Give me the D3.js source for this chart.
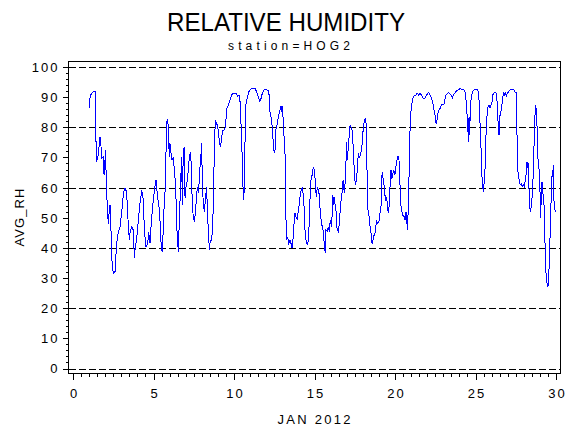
<!DOCTYPE html>
<html><head><meta charset="utf-8">
<script src="https://cdn.jsdelivr.net/npm/d3@7"></script>
<style>html,body{margin:0;padding:0;background:#fff;} svg{display:block}</style>
</head><body>
<svg id="c" width="570" height="430"></svg>
<script>
const title = "RELATIVE HUMIDITY";
const subtitle = "station=HOG2";
const xLabel = "JAN 2012";
const yLabel = "AVG_RH";
const xTicks = [0, 5, 10, 15, 20, 25, 30];
const yTicks = [0, 10, 20, 30, 40, 50, 60, 70, 80, 90, 100];
const gridValues = [0, 20, 40, 60, 80, 100];

const days = [
1.01,1.05,1.10,1.20,1.30,1.37,1.43,1.47,1.57,1.68,1.74,1.78,1.88,1.93,2.03,2.05,2.09,2.19,2.26,2.30,
2.36,2.40,2.50,2.61,2.65,2.71,2.82,2.92,3.02,3.13,3.23,3.33,3.44,3.50,3.54,3.64,3.75,3.81,3.87,3.95,
4.06,4.16,4.27,4.37,4.43,4.53,4.64,4.70,4.78,4.89,4.99,5.09,5.16,5.24,5.34,5.40,5.47,5.53,5.61,5.65,
5.71,5.76,5.82,5.88,5.92,5.98,6.02,6.09,6.15,6.23,6.29,6.38,6.44,6.50,6.54,6.60,6.69,6.75,6.79,6.85,
6.91,6.96,7.02,7.10,7.16,7.23,7.31,7.37,7.41,7.47,7.54,7.62,7.68,7.74,7.80,7.87,7.93,7.99,8.03,8.09,
8.16,8.24,8.30,8.36,8.43,8.47,8.53,8.61,8.68,8.74,8.80,8.86,8.92,8.99,9.05,9.11,9.17,9.24,9.30,9.38,
9.44,9.50,9.56,9.65,9.75,9.85,9.96,10.12,10.23,10.31,10.37,10.43,10.50,10.54,10.60,10.64,10.68,10.72,10.79,10.85,
10.93,11.04,11.16,11.30,11.41,11.51,11.61,11.68,11.76,11.86,11.99,12.13,12.20,12.24,12.30,12.34,12.40,12.44,12.51,12.55,
12.59,12.65,12.72,12.80,12.86,12.92,12.98,13.02,13.06,13.13,13.19,13.23,13.27,13.33,13.40,13.48,13.54,13.60,13.66,13.73,
13.79,13.85,13.93,14.00,14.06,14.12,14.18,14.24,14.31,14.35,14.41,14.47,14.56,14.62,14.68,14.74,14.80,14.86,14.93,14.99,
15.05,15.11,15.18,15.24,15.30,15.36,15.45,15.51,15.57,15.63,15.67,15.71,15.80,15.86,15.92,15.98,16.05,16.09,16.13,16.17,
16.21,16.27,16.34,16.38,16.44,16.48,16.54,16.63,16.71,16.75,16.79,16.85,16.90,16.96,17.00,17.04,17.11,17.17,17.21,17.27,
17.33,17.39,17.45,17.49,17.54,17.60,17.66,17.72,17.79,17.85,17.91,17.97,18.03,18.09,18.16,18.20,18.24,18.28,18.32,18.39,
18.45,18.51,18.55,18.61,18.67,18.74,18.80,18.86,18.92,19.00,19.07,19.13,19.17,19.21,19.27,19.34,19.40,19.46,19.52,19.58,
19.64,19.71,19.75,19.81,19.87,19.93,19.99,20.06,20.12,20.18,20.24,20.29,20.33,20.39,20.45,20.52,20.58,20.62,20.68,20.72,
20.77,20.83,20.89,20.95,21.02,21.08,21.14,21.22,21.30,21.39,21.47,21.55,21.64,21.72,21.80,21.88,21.97,22.07,22.13,22.22,
22.30,22.38,22.45,22.51,22.55,22.61,22.67,22.73,22.80,22.88,22.96,23.04,23.11,23.17,23.25,23.33,23.42,23.50,23.56,23.62,
23.73,23.83,23.93,24.04,24.14,24.24,24.35,24.41,24.47,24.51,24.56,24.60,24.64,24.68,24.74,24.82,24.91,25.01,25.13,25.20,
25.24,25.28,25.34,25.38,25.45,25.49,25.53,25.57,25.59,25.63,25.67,25.71,25.78,25.84,25.90,25.96,26.02,26.07,26.15,26.25,
26.31,26.38,26.42,26.46,26.50,26.56,26.63,26.69,26.73,26.79,26.85,26.92,26.98,27.06,27.14,27.25,27.35,27.45,27.52,27.56,
27.60,27.66,27.72,27.78,27.84,27.91,27.97,28.03,28.10,28.16,28.20,28.24,28.28,28.32,28.36,28.41,28.47,28.53,28.59,28.66,
28.72,28.76,28.80,28.84,28.90,28.97,29.01,29.05,29.09,29.13,29.17,29.22,29.26,29.30,29.34,29.38,29.44,29.50,29.54,29.59,
29.63,29.67,29.71,29.75,29.79,29.83,29.85,29.89,29.96
];
const rh = [
86.3,89.6,90.7,91.5,92.1,91.8,75.2,68.6,70.8,76.9,73.6,69.7,70.3,64.2,72.5,65.8,58.1,48.1,52.6,54.2,
45.9,37.1,31.6,32.1,36.0,41.5,45.4,47.0,51.5,58.1,59.8,58.6,47.0,42.6,44.8,47.0,45.9,36.5,40.4,42.6,
49.3,54.8,59.2,55.9,45.9,40.4,41.5,45.4,41.5,50.4,55.9,60.3,62.5,57.5,53.7,49.3,41.5,38.8,45.9,52.6,
57.5,67.6,81.9,82.8,79.7,70.3,74.7,71.4,69.2,69.7,66.4,60.3,47.0,42.6,38.8,48.1,62.5,70.3,54.2,72.5,
73.1,56.5,60.3,62.5,65.8,70.3,71.9,62.5,54.2,50.4,48.7,52.6,58.1,60.3,58.1,65.8,69.2,74.7,62.5,54.8,
52.0,57.0,60.3,50.4,43.7,39.3,42.6,42.6,47.0,61.4,78.0,81.9,81.3,80.2,77.5,74.7,73.6,76.9,79.1,79.1,
79.7,82.4,86.3,87.4,89.0,90.7,91.3,91.3,90.2,90.7,89.0,82.0,71.4,62.5,55.9,60.3,73.6,86.9,89.0,90.2,
91.8,92.6,92.9,92.9,91.8,90.2,88.5,89.6,91.3,92.4,92.6,92.1,90.2,84.6,83.5,81.3,79.7,73.6,71.4,72.5,
79.1,80.2,82.4,84.6,85.7,86.9,85.2,86.9,81.3,74.7,69.2,49.3,42.6,43.7,41.5,42.6,41.5,39.9,42.6,48.1,
51.5,50.4,49.3,52.6,54.8,58.1,59.2,60.3,57.0,53.7,45.9,42.6,40.9,42.6,49.3,59.2,63.6,64.2,66.9,65.8,
61.9,57.0,60.3,59.2,57.5,51.5,47.6,47.0,43.7,39.9,38.2,45.9,45.4,47.0,45.4,49.3,47.0,50.4,57.5,54.2,
57.0,54.8,52.0,47.0,45.9,45.4,48.1,54.8,58.1,61.9,62.5,58.1,61.4,69.2,75.2,69.2,74.2,78.0,80.8,80.2,
79.1,74.7,68.0,63.6,60.9,62.5,65.8,71.4,69.7,70.8,72.5,74.7,80.2,81.9,83.0,81.3,72.5,60.3,52.6,50.4,
47.0,44.8,42.0,41.5,44.2,44.2,47.0,48.7,48.1,48.7,51.5,53.7,62.5,65.3,62.5,60.3,55.9,56.5,55.3,51.5,
54.2,62.5,65.8,63.0,64.7,65.8,64.2,66.9,69.2,70.3,70.0,64.7,57.5,52.6,51.5,50.4,50.4,49.3,52.0,50.4,
45.9,53.7,68.0,83.0,86.9,89.0,90.2,90.7,90.7,91.3,90.7,91.3,90.7,89.9,89.3,89.9,90.7,91.5,91.3,90.2,
89.0,87.4,84.6,83.5,81.3,82.4,84.6,85.7,86.3,87.4,87.7,87.7,89.6,90.7,91.3,91.5,91.0,90.7,89.6,90.7,
91.5,92.1,92.4,92.9,92.6,92.6,91.8,89.0,84.6,81.9,75.2,83.5,77.5,86.9,90.2,91.8,92.4,92.6,92.6,90.7,
87.4,81.3,73.6,65.3,60.3,58.6,61.4,64.2,65.8,73.6,80.2,83.5,86.9,87.4,86.3,87.4,88.0,90.7,91.5,91.5,
91.3,84.6,79.1,77.5,83.5,84.6,86.9,89.6,91.3,90.7,91.5,90.5,91.3,91.8,92.4,92.6,92.6,91.8,91.5,84.6,
68.6,63.6,62.5,60.9,61.4,60.3,60.9,60.3,62.5,65.3,68.6,66.4,68.0,60.3,53.7,52.0,53.7,58.1,64.7,79.1,
87.4,86.3,85.7,75.8,66.9,65.8,58.1,49.8,59.2,61.9,58.1,57.5,53.7,45.9,36.0,31.6,28.3,27.2,28.3,37.1,
43.7,51.5,58.1,63.6,63.6,67.4,59.2,53.7,52.0
];

const FONT = "'Liberation Sans', Arial, sans-serif";
const frame = { l: 68.5, r: 560.5, t: 61.5, b: 373.5 };
const svg = d3.select("#c");
const x = d3.scaleLinear().domain([0, 30]).range([73, 556]);
const y = d3.scaleLinear().domain([0, 100]).range([368.5, 67]);

// Titles
svg.append("text").text(title)
  .attr("x", 286).attr("y", 30.5).attr("text-anchor", "middle")
  .attr("font-family", FONT).attr("font-size", 26)
  .attr("textLength", 238).attr("lengthAdjust", "spacingAndGlyphs");
svg.append("text").text(subtitle)
  .attr("x", 289).attr("y", 49.5).attr("text-anchor", "middle")
  .attr("font-family", FONT).attr("font-size", 12)
  .attr("textLength", 122).attr("lengthAdjust", "spacing");

// Grid dashed lines
svg.append("g").selectAll("line").data(gridValues).join("line")
  .attr("x1", frame.l).attr("x2", frame.r)
  .attr("y1", d => Math.round(y(d)) + 0.5).attr("y2", d => Math.round(y(d)) + 0.5)
  .attr("stroke", "#000").attr("stroke-width", 1)
  .attr("stroke-dasharray", "7,3")
  .attr("shape-rendering", "crispEdges");

// Data line
const line = d3.line().x((d, i) => x(days[i])).y((d, i) => y(rh[i]));
svg.append("path").datum(rh)
  .attr("d", line).attr("fill", "none")
  .attr("stroke", "#0000ff").attr("stroke-width", 1)
  .attr("shape-rendering", "crispEdges");

// Frame
svg.append("rect")
  .attr("x", frame.l).attr("y", frame.t)
  .attr("width", frame.r - frame.l).attr("height", frame.b - frame.t)
  .attr("fill", "none").attr("stroke", "#000").attr("stroke-width", 1)
  .attr("shape-rendering", "crispEdges");

// Y axis
const yMinor = d3.range(0, 101, 2).filter(v => v % 10 !== 0);
const gyMinor = svg.append("g").attr("transform", `translate(${frame.l},0)`)
  .call(d3.axisLeft(y).tickValues(yMinor).tickSize(3).tickFormat(""));
const gy = svg.append("g").attr("transform", `translate(${frame.l},0)`)
  .call(d3.axisLeft(y).tickValues(yTicks).tickSize(6).tickFormat(d3.format("d")));
[gy, gyMinor].forEach(g => {
  g.select(".domain").remove();
  g.selectAll("line").attr("shape-rendering", "crispEdges").attr("stroke", "#000");
});
gy.selectAll("text")
  .attr("x", -9).attr("dy", "0.34em")
  .attr("font-family", FONT).attr("font-size", 13)
  .attr("letter-spacing", 2).attr("fill", "#000");

// X axis
const xMinor = d3.range(0, 30.01, 0.5).filter(v => v % 5 !== 0);
const gxMinor = svg.append("g").attr("transform", `translate(0,${frame.b})`)
  .call(d3.axisBottom(x).tickValues(xMinor).tickSize(3).tickFormat(""));
const gx = svg.append("g").attr("transform", `translate(0,${frame.b})`)
  .call(d3.axisBottom(x).tickValues(xTicks).tickSize(6).tickFormat(d3.format("d")));
[gx, gxMinor].forEach(g => {
  g.select(".domain").remove();
  g.selectAll("line").attr("shape-rendering", "crispEdges").attr("stroke", "#000");
});
gx.selectAll("text")
  .attr("y", 24.5).attr("dy", 0).attr("dx", 1)
  .attr("font-family", FONT).attr("font-size", 13)
  .attr("letter-spacing", 2).attr("fill", "#000");

// Axis labels
svg.append("text").text(xLabel)
  .attr("x", 314).attr("y", 424).attr("text-anchor", "middle")
  .attr("font-family", FONT).attr("font-size", 13)
  .attr("textLength", 73).attr("lengthAdjust", "spacing");
svg.append("text").text(yLabel)
  .attr("transform", "translate(23.5,217.5) rotate(-90)")
  .attr("text-anchor", "middle")
  .attr("font-family", FONT).attr("font-size", 13)
  .attr("textLength", 58).attr("lengthAdjust", "spacing");
</script>
</body></html>
